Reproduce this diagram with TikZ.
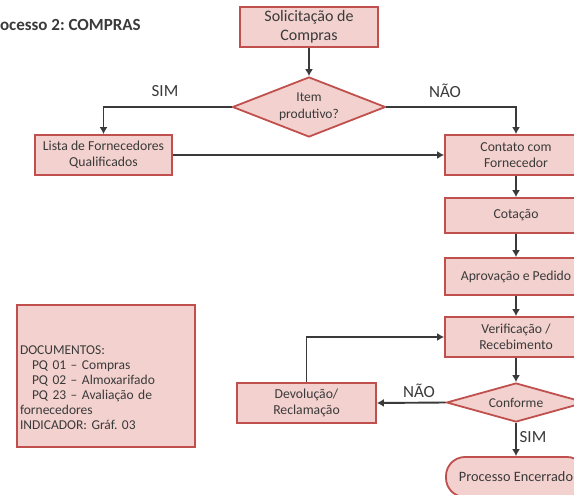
\documentclass[tikz,border=0pt]{standalone}
\usepackage{fontspec}
\setmainfont{Carlito}
\usetikzlibrary{shapes.geometric,arrows.meta}
\definecolor{boxfill}{RGB}{242,209,206}
\definecolor{boxline}{RGB}{192,80,77}
\definecolor{ink}{RGB}{58,58,58}
\frenchspacing

\begin{document}
\begin{tikzpicture}[x=1pt,y=-1pt,
  every node/.style={text=ink},
  proc/.style={draw=boxline, fill=boxfill, line width=1.8pt, rectangle,
    inner sep=0pt, align=center, font=\fontsize{13.7}{16}\selectfont},
  decide/.style={draw=boxline, fill=boxfill, line width=1.8pt, diamond,
    inner sep=0pt, align=center, font=\fontsize{13.5}{17}\selectfont},
  flow/.style={draw=ink, line width=1.9pt, -{Latex[length=7pt,width=8pt]}},
  tag/.style={font=\fontsize{17}{20}\selectfont, text=ink, inner sep=0pt}
]
\useasboundingbox (0,0) rectangle (574,495);
\fill[white] (0,0) rectangle (574,495);

% title
\node[anchor=west, inner sep=0pt, font=\bfseries\fontsize{17}{20}\selectfont] (title)
  at (-15,25) {Processo 2: COMPRAS};

% main flow
\node[proc, minimum width=138pt, minimum height=40pt, font=\fontsize{16}{19}\selectfont]
  (sol) at (309,27) {Solicitação de\\Compras};
\node[decide, minimum width=153pt, minimum height=60pt, aspect=2.55]
  (item) at (309,107) {Item\\produtivo?};
\node[proc, minimum width=137pt, minimum height=40pt]
  (lista) at (103.5,155) {Lista de Fornecedores\\Qualificados};
\node[proc, minimum width=142pt, minimum height=40pt]
  (contato) at (516,155) {Contato com\\Fornecedor};
\node[proc, minimum width=142pt, minimum height=35pt]
  (cot) at (516,215.5) {Cotação};
\node[proc, minimum width=142pt, minimum height=37pt]
  (apr) at (516,276.5) {Aprovação e Pedido};
\node[proc, minimum width=142pt, minimum height=40pt]
  (ver) at (516,337) {Verificação /\\Recebimento};
\node[decide, minimum width=139pt, minimum height=39pt, aspect=3.5]
  (conf) at (516,402.5) {Conforme};
\node[proc, minimum width=140pt, minimum height=40pt, rounded corners=19pt,
  font=\fontsize{14.3}{17}\selectfont]
  (fim) at (516,477) {Processo Encerrado};
\node[proc, minimum width=139pt, minimum height=40pt]
  (dev) at (306.5,403) {Devolução/\\Reclamação};

% documents box (text block sits a little below the centre)
\node[proc, minimum width=178pt, minimum height=142pt, text width=172pt,
  align=left, font=\fontsize{13.5}{15}\selectfont]
  (docs) at (106,376) {\rule{0pt}{33pt}DOCUMENTOS:\\
  \hspace*{12pt}PQ 01 – Compras\\
  \hspace*{12pt}PQ 02 – Almoxarifado\\
  \hspace*{12pt}PQ 23 – Avaliação de\\
  fornecedores\\
  INDICADOR: Gráf. 03};

% branch labels
\node[tag] (simA) at (165,91) {SIM};
\node[tag] (naoA) at (445,91) {NÃO};
\node[tag] (naoB) at (419,391) {NÃO};
\node[tag] (simB) at (533,437) {SIM};

% connectors
\draw[flow] (sol) -- (item);
\draw[flow] (item.west) -| (lista.north);
\draw[flow] (item.east) -| (contato.north);
\draw[flow] (lista) -- (contato);
\draw[flow] (contato) -- (cot);
\draw[flow] (cot) -- (apr);
\draw[flow] (apr) -- (ver);
\draw[flow] (ver) -- (conf);
\draw[flow] (conf.west) -- (dev.east);
\draw[flow] (dev.north) |- (ver.west);
\draw[flow] (conf) -- (fim);
\end{tikzpicture}
\end{document}
